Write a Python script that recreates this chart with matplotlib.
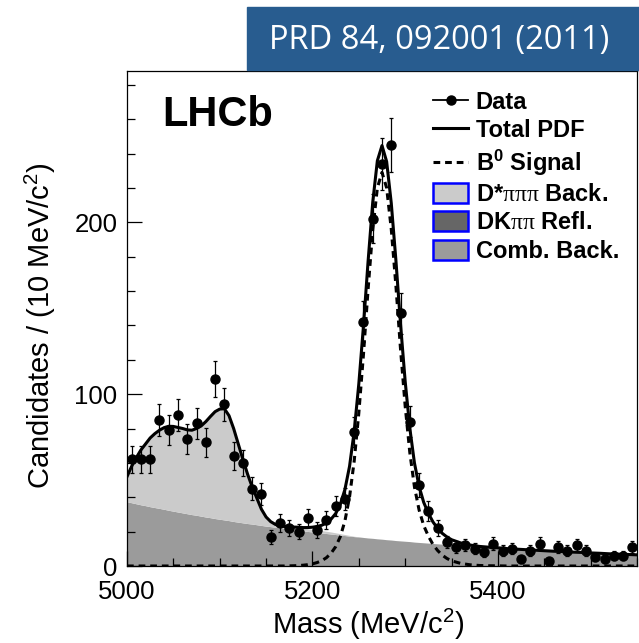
import matplotlib
matplotlib.use("Agg")
import matplotlib.pyplot as plt
import matplotlib.patches as mpatches
from matplotlib.lines import Line2D
import numpy as np

plt.rcParams['font.family'] = ['Liberation Sans', 'DejaVu Sans']
plt.rcParams['mathtext.fontset'] = 'custom'
plt.rcParams['mathtext.rm'] = 'Liberation Sans'
plt.rcParams['mathtext.it'] = 'Liberation Sans:italic'
plt.rcParams['mathtext.bf'] = 'Liberation Sans:bold'
plt.rcParams['mathtext.sf'] = 'Liberation Serif'

# data histogram, 10 MeV bins
bin_centres = np.arange(5005, 5550, 10)
counts = [62, 62, 62, 85, 79, 88, 74, 83, 72, 109,
          94, 64, 60, 45, 42, 17, 25, 22, 20, 28,
          21, 27, 35, 39, 78, 142, 202, 234, 245, 147,
          84, 47, 32, 22, 14, 11, 12, 10, 8, 13,
          9, 10, 4, 9, 13, 3, 11, 9, 12, 9,
          5, 4, 6, 6, 11]

# fit components
curve_mass = list(range(5000, 5350, 5)) + list(range(5350, 5551, 10))
comb_bkg = [37.4, 36.8, 36.2, 35.6, 35.1, 34.5, 34.0, 33.5, 33.0, 32.4,
            31.9, 31.4, 30.9, 30.4, 29.9, 29.5, 29.0, 28.5, 28.1, 27.6,
            27.2, 26.8, 26.4, 25.9, 25.5, 25.1, 24.7, 24.4, 24.0, 23.6,
            23.2, 22.9, 22.5, 22.2, 21.8, 21.5, 21.1, 20.8, 20.4, 20.1,
            19.8, 19.5, 19.2, 18.9, 18.6, 18.3, 18.0, 17.7, 17.4, 17.1,
            16.9, 16.6, 16.3, 16.1, 15.8, 15.6, 15.3, 15.1, 14.8, 14.6,
            14.4, 14.2, 13.9, 13.7, 13.5, 13.3, 13.1, 12.9, 12.7, 12.5,
            12.3, 11.9, 11.5, 11.1, 10.8, 10.5, 10.1, 9.8, 9.5, 9.2,
            8.9, 8.6, 8.4, 8.1, 7.9, 7.6, 7.4, 7.1, 6.9, 6.7, 6.5]
dstar_bkg = [14.6, 21.2, 26.8, 31.9, 35.9, 40.0, 43.0, 45.5, 47.5, 48.9,
             49.3, 49.2, 49.1, 48.8, 49.1, 50.5, 52.5, 55.5, 58.9, 62.2,
             64.1, 64.7, 61.1, 54.1, 45.5, 36.9, 28.8, 21.6, 15.5, 9.4,
             5.3, 2.9, 1.7, 1.2, 1.2, 1.3, 1.4, 1.5, 1.5, 1.5,
             1.5, 1.5, 1.4, 1.3, 1.2, 1.0, 0.8, 0.6, 0.4, 0.2,
             0.1, 0, 0, 0, 0, 0, 0, 0, 0, 0,
             0, 0, 0, 0, 0, 0, 0, 0, 0, 0,
             0, 0, 0, 0, 0, 0, 0, 0, 0, 0,
             0, 0, 0, 0, 0, 0, 0, 0, 0, 0, 0]
b0_signal = [0, 0, 0, 0, 0, 0, 0, 0, 0, 0,
             0, 0, 0, 0, 0, 0, 0, 0, 0, 0,
             0, 0, 0, 0, 0, 0, 0, 0, 0, 0,
             0, 0, 0, 0, 0, 0.08, 0.14, 0.26, 0.46, 0.77,
             1.27, 2.0, 3.1, 4.8, 7.4, 11.2, 17.0, 26.2, 40.2, 61,
             89, 123, 161, 195.5, 220, 229, 220, 196, 163, 126,
             93, 66, 46, 32.6, 23.5, 17.4, 12.5, 9.0, 6.3, 4.4,
             3.0, 1.5, 0.7, 0.3, 0.15, 0.1, 0, 0, 0, 0,
             0, 0, 0, 0, 0, 0, 0, 0, 0, 0, 0]

comb = np.array(comb_bkg)
dstar = np.array(dstar_bkg)
sig = np.array(b0_signal)
total = comb + dstar + sig

fig = plt.figure(figsize=(6.39, 6.43), dpi=100)
ax = fig.add_axes([127/639, 77/643, 510/639, 495/643])

ax.fill_between(curve_mass, 0, comb, color='#9b9b9b', lw=0, zorder=1)
ax.fill_between(curve_mass, comb, comb + dstar, color='#cbcbcb', lw=0, zorder=1)
ax.plot(curve_mass, total, color='black', lw=2.2, zorder=3)
ax.plot(curve_mass, sig, color='black', lw=2.2, ls=(0, (2.2, 1.6)), zorder=3)
ax.errorbar(bin_centres, counts, yerr=np.sqrt(counts), fmt='o', color='black',
            ms=6.5, elinewidth=0.9, capsize=1.6, capthick=0.9, zorder=4)

ax.set_xlim(5000, 5550)
ax.set_ylim(0, 288)
ax.set_xticks([5000, 5200, 5400])
ax.set_xticks(np.arange(5000, 5551, 50), minor=True)
ax.set_yticks([0, 100, 200])
ax.set_yticks(np.arange(0, 288, 20), minor=True)
ax.tick_params(which='both', direction='in', top=False, right=False, labelsize=18.5, width=0.9)
ax.tick_params(which='major', length=11, pad=7)
ax.tick_params(which='minor', length=6)
ax.tick_params(axis='x', which='major', pad=10)
for s in ax.spines.values():
    s.set_linewidth(0.9)

ax.set_xlabel('Mass (MeV/c$^{2}$)', fontsize=21)
ax.set_ylabel('Candidates / (10 MeV/c$^{2}$)', fontsize=21)
ax.xaxis.set_label_coords(0.4725, -0.083)
ax.yaxis.set_label_coords(-0.135, 0.485)

ax.text(0.0686, 0.889, 'LHCb', transform=ax.transAxes, fontsize=30,
        fontweight='bold', va='baseline', ha='left')

handles = [
    Line2D([], [], color='black', marker='o', ms=6.5, lw=1.3),
    Line2D([], [], color='black', lw=2.2),
    Line2D([], [], color='black', lw=2.2, ls=(0, (2.2, 1.6))),
    mpatches.Patch(facecolor='#cbcbcb', edgecolor='#0000ff', lw=1.8),
    mpatches.Patch(facecolor='#666666', edgecolor='#0000ff', lw=1.8),
    mpatches.Patch(facecolor='#9b9b9b', edgecolor='#0000ff', lw=1.8),
]
labels = ['Data', 'Total PDF', 'B$^{\\mathbf{0}}$ Signal',
          'D*$\\mathsf{\\pi\\pi\\pi}$ Back.', 'DK$\\mathsf{\\pi\\pi}$ Refl.',
          'Comb. Back.']
ax.legend(handles, labels, loc='upper left', bbox_to_anchor=(0.6, 0.96),
          frameon=False, prop={'weight': 'bold', 'size': 17},
          handlelength=1.5, handleheight=0.93, handletextpad=0.3,
          labelspacing=0.22, borderpad=0, borderaxespad=0)

# journal reference banner
fig.add_artist(mpatches.Rectangle((247/639, 1 - 70/643), 392/639, 63/643,
                                  transform=fig.transFigure, color='#285c8f', zorder=5))
fig.text(439/639, 1 - 40/643, 'PRD 84, 092001 (2011)', color='white', fontsize=23.5,
         family='Open Sans', ha='center', va='center', zorder=6)

fig.savefig('out.png', dpi=100)
